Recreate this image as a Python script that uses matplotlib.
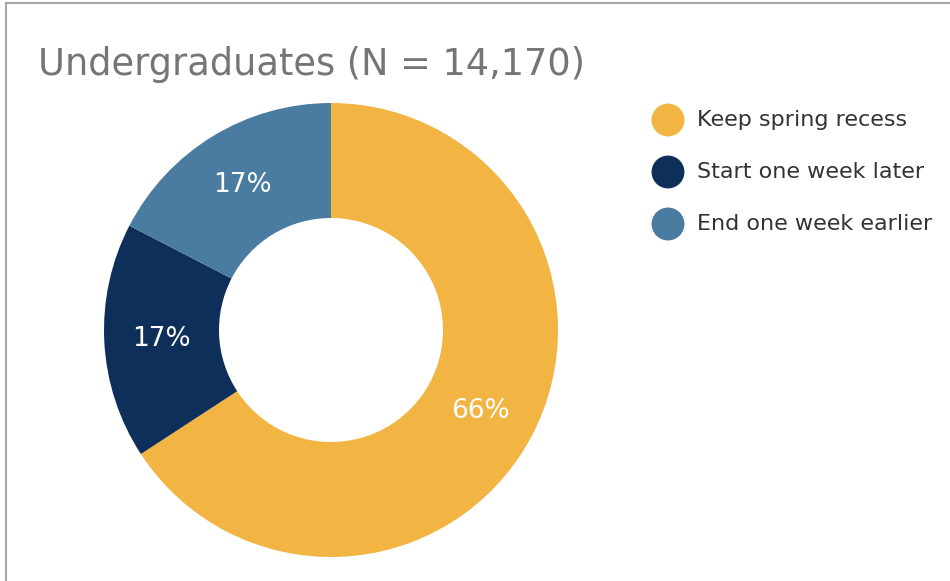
import matplotlib
matplotlib.use("Agg")
import matplotlib.pyplot as plt
from matplotlib.patches import Rectangle

# data
categories = ["Keep spring recess", "Start one week later", "End one week earlier"]
shares = [65.8, 16.8, 17.4]
colors = ["#F2B544", "#0E2F5A", "#4A7BA0"]
title = "Undergraduates (N = 14,170)"

W, H = 950, 581
fig = plt.figure(figsize=(W / 100, H / 100), dpi=100)
ax = fig.add_axes([0, 0, 1, 1])

# grey frame (only top and left edges fall inside the picture)
ax.add_patch(Rectangle((5.5, -20), W + 40, H - 3 + 20, fill=False,
                       edgecolor="#a8a8a8", linewidth=1.5))

wedges, texts, autotexts = ax.pie(
    shares, colors=colors, startangle=90, counterclock=False,
    center=(331, H - 330), radius=227, frame=True,
    wedgeprops=dict(width=115, edgecolor="none"),
    autopct="%.0f%%", pctdistance=0.75,
    textprops=dict(color="white", fontsize=19))
ax.set_xlim(0, W)
ax.set_ylim(0, H)
ax.set_aspect("equal")
ax.axis("off")

ax.text(38, H - 75, title, fontsize=26.5, color="#757575", ha="left", va="baseline")

# legend
for i, (lab, col) in enumerate(zip(categories, colors)):
    y = H - 120 - i * 52
    ax.scatter([668], [y], s=560, color=col, edgecolors="none")
    ax.text(697, y, lab, fontsize=16, color="#333333", ha="left", va="center")

fig.savefig("out.png", dpi=100)
